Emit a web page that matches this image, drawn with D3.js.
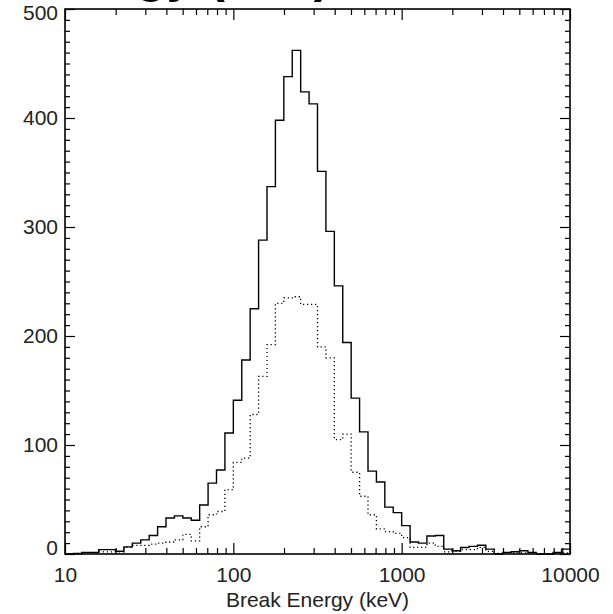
<!DOCTYPE html>
<html>
<head>
<meta charset="utf-8">
<script src="https://cdn.jsdelivr.net/npm/d3@7"></script>
<style>
  body { margin: 0; background: #fff; }
  text { font-family: "Liberation Sans", Arial, sans-serif; }
</style>
</head>
<body>
<script>
var width = 613,
    height = 614;

// bins are 0.05 wide in log10(E), from 10 keV to 10000 keV
var logStart = 1.0,
    logStep = 0.05;

// counts per bin, full sample (solid)
var countsAll = [0, 0.5, 1.5, 1.5, 4, 4, 2.5, 6.5, 10, 13,
                 17, 25, 33, 35, 33, 31, 45, 65, 77, 111,
                 141, 178, 225, 288, 337, 398, 438, 462, 424, 413,
                 351, 296, 246, 194, 143, 112, 76, 66, 43, 38,
                 26, 11, 10, 16.5, 17, 4.5, 3, 6, 7, 8,
                 4.5, 0, 1.5, 2, 3, 1.5, 0, 0, 1.5, 4.5];

// counts per bin, sub-sample (dotted)
var countsSub = [0, 0, 1, 1, 2, 2, 2, 6, 8, 8,
                 9, 10, 11, 13, 18, 12, 25, 36, 39, 59,
                 84, 88, 128, 163, 192, 230, 235, 236, 229, 229,
                 190, 180, 105, 110, 75, 53, 36, 23, 20.5, 19,
                 15, 6, 6, 10, 7, 2, 2.5, 4, 4, 6,
                 2.5, 0.5, 1, 1, 1, 0.5, 0, 0, 0.5, 1];

var xMajor = [10, 100, 1000, 10000];
var xLabels = ["10", "100", "1000", "10000"];
var yMajor = [0, 100, 200, 300, 400, 500];

var x = d3.scaleLog()
    .domain([10, 10000])
    .range([65, 570]);

var y = d3.scaleLinear()
    .domain([0, 500])
    .range([554, 9]);

var svg = d3.select("body").append("svg")
    .attr("width", width)
    .attr("height", height);

// title cut off at the top of the window, only the descenders show
svg.append("text")
    .attr("x", 136).attr("y", -8)
    .attr("text-anchor", "end")
    .style("font-size", "50px").style("font-weight", "bold")
    .text("Break Ener");
svg.append("text")
    .attr("x", 136).attr("y", -8)
    .style("font-size", "50px").style("font-weight", "bold")
    .text("gy (keV)");

// histogram step lines
function steps(counts) {
  var pts = counts.map(function(c, i) {
    return [Math.pow(10, logStart + i * logStep), c];
  });
  pts.push([Math.pow(10, logStart + counts.length * logStep), counts[counts.length - 1]]);
  return pts;
}

var line = d3.line()
    .x(function(d) { return x(d[0]); })
    .y(function(d) { return y(d[1]); })
    .curve(d3.curveStepAfter);

svg.append("path")
    .datum(steps(countsSub))
    .attr("d", line)
    .attr("fill", "none")
    .attr("stroke", "#000")
    .attr("stroke-width", 1.3)
    .attr("stroke-dasharray", "1.2,2.8");

svg.append("path")
    .datum(steps(countsAll))
    .attr("d", line)
    .attr("fill", "none")
    .attr("stroke", "#000")
    .attr("stroke-width", 1.4);

// minor tick values
var xMinor = [];
xMajor.slice(0, 3).forEach(function(d) {
  for (var k = 2; k <= 9; k++) xMinor.push(d * k);
});
var yMinor = d3.range(0, 501, 10).filter(function(d) { return d % 100 !== 0; });

function style(g) {
  g.select(".domain").remove();
  g.selectAll("line").attr("stroke", "#000").attr("stroke-width", 1.2);
  g.selectAll("text").style("font-size", "21px").attr("fill", "#222")
    .style("font-family", "'Liberation Sans', Arial, sans-serif");
}

// bottom
svg.append("g").attr("transform", "translate(0,554)")
    .call(d3.axisBottom(x).tickValues(xMinor).tickSize(-6).tickFormat(""))
    .call(style);
svg.append("g").attr("transform", "translate(0,554)")
    .call(d3.axisBottom(x).tickValues(xMajor).tickSize(-11).tickPadding(13)
      .tickFormat(function(d, i) { return xLabels[i]; }))
    .call(style);

// top
svg.append("g").attr("transform", "translate(0,9)")
    .call(d3.axisTop(x).tickValues(xMinor).tickSize(-6).tickFormat(""))
    .call(style);
svg.append("g").attr("transform", "translate(0,9)")
    .call(d3.axisTop(x).tickValues(xMajor).tickSize(-11).tickFormat(""))
    .call(style);

// left
svg.append("g").attr("transform", "translate(65,0)")
    .call(d3.axisLeft(y).tickValues(yMinor).tickSize(-5).tickFormat(""))
    .call(style);
var yAx = svg.append("g").attr("transform", "translate(65,0)")
    .call(d3.axisLeft(y).tickValues(yMajor).tickSize(-10).tickPadding(7)
      .tickFormat(d3.format("d")))
    .call(style);
// end labels sit a little inside the frame
yAx.selectAll("text")
    .attr("y", function(d) { return d === 0 ? -6 : (d === 500 ? 4 : 0); });

// right
svg.append("g").attr("transform", "translate(570,0)")
    .call(d3.axisRight(y).tickValues(yMinor).tickSize(-5).tickFormat(""))
    .call(style);
svg.append("g").attr("transform", "translate(570,0)")
    .call(d3.axisRight(y).tickValues(yMajor).tickSize(-10).tickFormat(""))
    .call(style);

// frame
svg.append("rect")
    .attr("x", 65).attr("y", 9)
    .attr("width", 570 - 65).attr("height", 554 - 9)
    .attr("fill", "none")
    .attr("stroke", "#000")
    .attr("stroke-width", 1.6);

svg.append("text")
    .attr("x", (65 + 570) / 2)
    .attr("y", 607)
    .attr("text-anchor", "middle")
    .attr("fill", "#222")
    .style("font-size", "21px")
    .text("Break Energy (keV)");
</script>
</body>
</html>
